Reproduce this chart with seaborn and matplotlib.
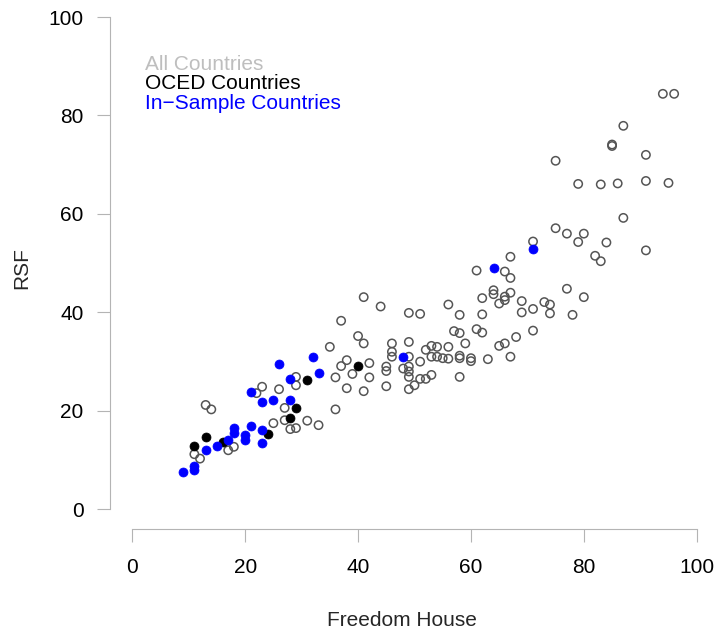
import pandas as pd
import seaborn as sns
import matplotlib.pyplot as plt

# all countries (open circles)
all_x = [94, 96, 87, 85, 85, 75, 91, 79, 83, 86, 91, 95, 87, 75, 77, 80, 79, 84, 91, 82, 83,
         77, 80, 73, 74, 74, 78,
         71, 67, 61, 66, 67, 64, 64, 67, 66, 66, 65, 62, 56, 69, 71, 69, 58, 62, 61, 62, 57, 58,
         59, 71, 68, 66, 65, 56, 53, 54, 53, 54, 55, 56, 58, 58, 60, 60, 63, 67, 53, 58,
         44, 49, 51, 37, 40, 41, 46, 49, 46, 46, 49, 52, 51, 38, 42, 37, 45, 45, 48, 49, 49, 49,
         39, 42, 36, 51, 52, 50, 49, 45, 38, 41, 36, 41,
         35, 29, 29, 23, 26, 22, 27, 27, 25, 31, 33, 28, 29,
         13, 14, 17, 18, 11, 12]
all_y = [84.4, 84.4, 77.9, 74.1, 73.8, 70.8, 72.0, 66.1, 66.0, 66.2, 66.7, 66.3, 59.2, 57.1, 56.0,
         56.0, 54.3, 54.2, 52.6, 51.5, 50.4, 44.8, 43.1, 42.1, 41.6, 39.8, 39.5,
         54.4, 51.3, 48.5, 48.3, 47.0, 44.5, 43.7, 44.0, 43.2, 42.5, 41.8, 42.9, 41.6, 42.3, 40.7,
         40.0, 39.5, 39.6, 36.6, 35.9, 36.2, 35.8, 33.7, 36.3, 35.0, 33.7, 33.2, 33.0, 33.2, 33.0,
         31.0, 31.0, 30.7, 30.6, 31.2, 30.7, 30.7, 30.1, 30.5, 31.0, 27.3, 26.9,
         41.2, 39.9, 39.7, 38.3, 35.2, 33.7, 33.7, 34.0, 32.0, 31.0, 31.0, 32.4, 30.0, 30.3, 29.7,
         29.1, 29.0, 28.1, 28.6, 29.0, 28.0, 26.9, 27.5, 26.8, 26.8, 26.5, 26.5, 25.2, 24.4, 25.0,
         24.6, 24.0, 20.3, 43.1,
         33.0, 26.9, 25.2, 24.9, 24.4, 23.6, 20.6, 18.1, 17.5, 18.0, 17.1, 16.3, 16.5,
         21.2, 20.3, 12.0, 12.7, 11.2, 10.3]

# OECD countries (black)
oecd_x = [11, 13, 16, 24, 28, 29, 31, 40]
oecd_y = [12.9, 14.7, 13.7, 15.4, 18.5, 20.5, 26.3, 29.1]

# in-sample countries (blue)
sample_x = [9, 11, 11, 13, 15, 17, 18, 18, 20, 20, 21, 23, 23, 21, 23, 25, 28, 26, 28, 32, 33,
            48, 64, 71]
sample_y = [7.6, 8.8, 8.0, 12.1, 12.9, 14.0, 16.6, 15.6, 15.1, 14.1, 16.9, 16.1, 13.4, 23.9,
            21.8, 22.2, 22.2, 29.5, 26.4, 31.0, 27.6, 30.9, 49.0, 52.9]

df_all = pd.DataFrame({"fh": all_x, "rsf": all_y})
df_oecd = pd.DataFrame({"fh": oecd_x, "rsf": oecd_y})
df_sample = pd.DataFrame({"fh": sample_x, "rsf": sample_y})

sns.set_style("white")
plt.rcParams['font.family'] = ['Liberation Sans', 'DejaVu Sans']

fig = plt.figure(figsize=(7.17, 6.35), dpi=100)
ax = fig.add_axes([0.1530, 0.1669, 0.8502, 0.8373])

sns.scatterplot(data=df_all, x="fh", y="rsf", ax=ax, s=36, facecolor="none",
                edgecolor="#555555", linewidth=1.1)
sns.scatterplot(data=df_oecd, x="fh", y="rsf", ax=ax, s=42, color="black", edgecolor="black",
                linewidth=0.5)
sns.scatterplot(data=df_sample, x="fh", y="rsf", ax=ax, s=42, color="#0000FF", edgecolor="#0000FF",
                linewidth=0.5)

ax.set_xlim(-4, 104)
ax.set_ylim(-4, 104)
ax.set_xticks([0, 20, 40, 60, 80, 100])
ax.set_yticks([0, 20, 40, 60, 80, 100])
for side in ["top", "right"]:
    ax.spines[side].set_visible(False)
for side in ["left", "bottom"]:
    ax.spines[side].set_color("#B4B4B4")
    ax.spines[side].set_linewidth(0.8)
ax.spines["left"].set_bounds(0, 100)
ax.spines["bottom"].set_bounds(0, 100)
ax.tick_params(axis="both", which="major", bottom=True, left=True, direction="out",
               length=9.4, width=0.8, color="#B4B4B4",
               labelsize=15, labelcolor="black")
ax.tick_params(axis="x", pad=11.5)
ax.tick_params(axis="y", pad=9.5)
ax.set_xlabel("")
ax.set_ylabel("")
ax.patch.set_alpha(0)

fig.text(402 / 717, 1 - 620 / 635, "Freedom House", fontsize=15, ha="center", va="center")
fig.text(22 / 717, 1 - 268 / 635, "RSF", fontsize=15, ha="center", va="center", rotation=90)

ax.text(2.25, 90.4, "All Countries", fontsize=15, color="#BEBEBE", va="center")
ax.text(2.25, 86.5, "OCED Countries", fontsize=15, color="black", va="center")
ax.text(2.25, 82.4, "In\u2212Sample Countries", fontsize=15, color="#0000FF", va="center")

fig.savefig("out.png", dpi=100)
